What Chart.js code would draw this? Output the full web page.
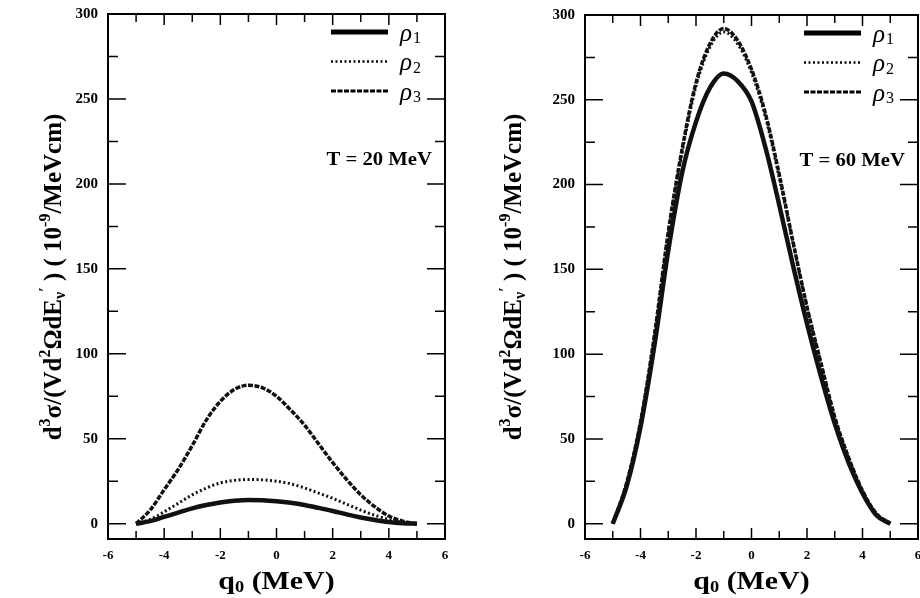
<!DOCTYPE html>
<html>
<head>
<meta charset="utf-8">
<script src="https://cdn.jsdelivr.net/npm/chart.js@4.4.1/dist/chart.umd.min.js"></script>
<style>
  html, body { margin: 0; padding: 0; background: #fff; overflow: hidden; }
  #page { position: relative; width: 920px; height: 598px; overflow: hidden; background: #fff; }
  .panel { position: absolute; top: 0; }
</style>
</head>
<body>
<div id="page">
  <div class="panel" style="left:0"><canvas id="chartT20" width="460" height="598"></canvas></div>
  <div class="panel" style="left:460px"><canvas id="chartT60" width="470" height="598"></canvas></div>
</div>
<script>
// Data (q0 in MeV, cross section in 10^-9/MeVcm)
const q0 = [-5, -4.5, -4, -3.5, -3, -2.5, -2, -1.5, -1, -0.5, 0, 0.5, 1, 1.5, 2, 2.5, 3, 3.5, 4, 4.5, 5];

// T = 20 MeV
const rho1T20 = [0, 1.5, 4, 6.5, 9, 11, 12.5, 13.5, 14, 13.8, 13.2, 12.3, 11, 9.3, 7.5, 5.5, 3.7, 2.2, 1, 0.3, 0];
const rho2T20 = [0, 2.5, 7, 12, 17, 21, 24, 25.5, 26, 25.8, 25, 23.5, 21, 18, 15, 11.5, 8, 5, 2.5, 0.8, 0];
const rho3T20 = [0, 8, 20, 32, 46, 61, 72, 79, 81.5, 80, 75, 67, 58, 47, 36, 26, 17, 10, 4.5, 1.5, 0];

// T = 60 MeV
const rho1T60 = [0, 22, 57, 105, 161, 207, 237, 257, 265.5, 261, 249, 222, 188, 152, 118, 87, 59, 36, 18, 5, 0];
const rho2T60 = [0, 23, 59, 109, 170, 219, 258, 281, 290, 283, 266, 240, 204, 165, 127, 94, 62, 38.5, 19, 5.5, 0];
const rho3T60 = [0, 24, 60, 111, 172, 221, 260, 283, 292, 285, 268, 242, 206, 166, 128, 95, 63, 39, 19.5, 6, 0];

const seriesNames = ['ρ', 'ρ', 'ρ'];
const seriesSubs = ['1', '2', '3'];

const xTicks = [-6, -4, -2, 0, 2, 4, 6];
const xMinorTicks = [-5, -3, -1, 1, 3, 5];
const yTicks = [0, 50, 100, 150, 200, 250, 300];
const yMinorTicks = [25, 75, 125, 175, 225, 275];

const SERIF = "'Liberation Serif', 'DejaVu Serif', serif";

// line looks for the three densities
const styles = [
  { borderWidth: 4.5, borderDash: [] },
  { borderWidth: 3, borderDash: [2, 2.5] },
  { borderWidth: 3.5, borderDash: [5, 1.5] }
];

function pts(values) {
  return q0.map((x, i) => ({ x: x, y: values[i] }));
}

// draws text made of normal / sup / sub pieces
function segFont(s, size) {
  const sz = s.k === 'n' ? size : Math.round(size * 0.62);
  return 'bold ' + sz + 'px ' + SERIF;
}
function richWidth(ctx, segs, size) {
  let w = 0;
  segs.forEach(s => {
    ctx.font = segFont(s, size);
    w += ctx.measureText(s.t).width;
  });
  return w;
}
function drawRich(ctx, segs, x, y, size) {
  segs.forEach(s => {
    ctx.font = segFont(s, size);
    let dy = 0;
    if (s.k === 'sup') dy = -size * 0.38;
    if (s.k === 'sub') dy = size * 0.22;
    ctx.fillText(s.t, x, y + dy);
    x += ctx.measureText(s.t).width;
  });
}

const yTitleSegs = [
  { t: 'd', k: 'n' }, { t: '3', k: 'sup' }, { t: 'σ/(Vd', k: 'n' }, { t: '2', k: 'sup' },
  { t: 'ΩdE', k: 'n' }, { t: 'ν', k: 'sub' }, { t: '\u2032', k: 'sup' }, { t: ' ) ( 10', k: 'n' },
  { t: '-9', k: 'sup' }, { t: '/MeVcm)', k: 'n' }
];
const xTitleSegs = [{ t: 'q', k: 'n' }, { t: '0', k: 'sub' }, { t: ' (MeV)', k: 'n' }];

const panelDecor = {
  id: 'panelDecor',
  afterDatasetsDraw(chart, args, opts) {
    const { ctx, chartArea: a, scales: { x, y } } = chart;
    ctx.save();
    ctx.strokeStyle = '#000';
    ctx.fillStyle = '#000';

    // inward tick marks on all four sides
    ctx.lineWidth = 1.5;
    ctx.beginPath();
    yTicks.concat(yMinorTicks).forEach(v => {
      const len = yTicks.includes(v) ? 18 : 10;
      const py = y.getPixelForValue(v);
      ctx.moveTo(a.left, py); ctx.lineTo(a.left + len, py);
      ctx.moveTo(a.right, py); ctx.lineTo(a.right - len, py);
    });
    xTicks.concat(xMinorTicks).forEach(v => {
      const len = xTicks.includes(v) ? 11 : 8;
      const px = x.getPixelForValue(v);
      ctx.moveTo(px, a.bottom); ctx.lineTo(px, a.bottom - len);
      ctx.moveTo(px, a.top); ctx.lineTo(px, a.top + len);
    });
    ctx.stroke();

    // frame
    ctx.lineWidth = 2;
    ctx.strokeRect(a.left, a.top, a.right - a.left, a.bottom - a.top);

    // legend in the top right corner
    chart.data.datasets.forEach((ds, i) => {
      const ly = a.top + 18 + i * 29.5;
      ctx.save();
      ctx.lineWidth = i === 0 ? 5 : ds.borderWidth - 0.5;
      ctx.setLineDash(ds.borderDash);
      ctx.beginPath();
      ctx.moveTo(a.right - 114, ly);
      ctx.lineTo(a.right - 57, ly);
      ctx.stroke();
      ctx.restore();
      ctx.textBaseline = 'middle';
      ctx.textAlign = 'left';
      ctx.font = 'italic 25px ' + SERIF;
      ctx.fillText(seriesNames[i], a.right - 45, ly + 2);
      const w = ctx.measureText(seriesNames[i]).width;
      ctx.font = '16px ' + SERIF;
      ctx.fillText(seriesSubs[i], a.right - 45 + w + 1, ly + 7);
    });

    // temperature label
    ctx.save();
    ctx.textAlign = 'right';
    ctx.textBaseline = 'alphabetic';
    ctx.font = 'bold 18px ' + SERIF;
    ctx.translate(a.right - 13, a.top + 151);
    ctx.scale(1.15, 1);
    ctx.fillText(opts.label, 0, 0);
    ctx.restore();

    // x axis title
    ctx.save();
    ctx.textAlign = 'left';
    ctx.textBaseline = 'middle';
    const xw = richWidth(ctx, xTitleSegs, 26) * 1.15;
    ctx.translate((a.left + a.right) / 2 - xw / 2, 582);
    ctx.scale(1.15, 1);
    drawRich(ctx, xTitleSegs, 0, 0, 26);
    ctx.restore();

    // y axis title (rotated)
    ctx.save();
    ctx.textAlign = 'left';
    ctx.textBaseline = 'middle';
    ctx.translate(55, 277);
    ctx.rotate(-Math.PI / 2);
    const yw = richWidth(ctx, yTitleSegs, 25);
    drawRich(ctx, yTitleSegs, -yw / 2, 0, 25);
    ctx.restore();

    ctx.restore();
  }
};

function makeChart(id, r1, r2, r3, label, yAxisWidth, padTop, padRight) {
  const sets = [r1, r2, r3].map((vals, i) => ({
    label: seriesNames[i] + seriesSubs[i],
    data: pts(vals),
    borderColor: '#111',
    backgroundColor: '#111',
    borderWidth: styles[i].borderWidth,
    borderDash: styles[i].borderDash,
    pointRadius: 0,
    cubicInterpolationMode: 'monotone',
    fill: false
  }));
  return new Chart(document.getElementById(id), {
    type: 'line',
    data: { datasets: sets },
    options: {
      responsive: false,
      animation: false,
      layout: { padding: { top: padTop, right: padRight, left: 0, bottom: 0 } },
      plugins: {
        legend: { display: false },
        tooltip: { enabled: false },
        panelDecor: { label: label }
      },
      scales: {
        x: {
          type: 'linear',
          min: -6,
          max: 6,
          grid: { display: false, drawTicks: false },
          border: { display: false },
          afterBuildTicks: s => { s.ticks = xTicks.map(v => ({ value: v })); },
          afterFit: s => { s.height = 59; s.paddingLeft = 0; s.paddingRight = 0; },
          ticks: {
            color: '#000',
            padding: 9,
            maxRotation: 0,
            autoSkip: false,
            font: { family: SERIF, weight: 'bold', size: 13 }
          }
        },
        y: {
          type: 'linear',
          min: -9,
          max: 300,
          grid: { display: false, drawTicks: false },
          border: { display: false },
          afterBuildTicks: s => { s.ticks = yTicks.map(v => ({ value: v })); },
          afterFit: s => { s.width = yAxisWidth; s.paddingTop = 0; s.paddingBottom = 0; },
          ticks: {
            color: '#000',
            padding: 10,
            autoSkip: false,
            font: { family: SERIF, weight: 'bold', size: 15 }
          }
        }
      }
    },
    plugins: [panelDecor]
  });
}

makeChart('chartT20', rho1T20, rho2T20, rho3T20, 'T = 20 MeV', 108, 14, 15);
makeChart('chartT60', rho1T60, rho2T60, rho3T60, 'T = 60 MeV', 125, 15, 12);
</script>
</body>
</html>
